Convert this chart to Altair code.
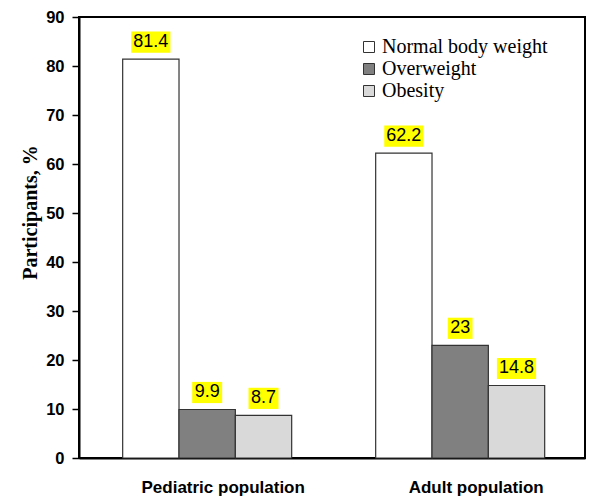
import altair as alt
import pandas as pd

groups = ["Pediatric population", "Adult population"]
categories = ["Normal body weight", "Overweight", "Obesity"]
pediatric = [81.4, 9.9, 8.7]
adult = [62.2, 23, 14.8]
colors = ["#ffffff", "#808080", "#d9d9d9"]
y_ticks = [0, 10, 20, 30, 40, 50, 60, 70, 80, 90]

rows = []
for g, vals in zip(groups, [pediatric, adult]):
    for c, v in zip(categories, vals):
        rows.append({"group": g, "category": c, "value": v})
df = pd.DataFrame(rows)

# label box shapes (unit square coordinates, scaled by symbol size)
box_paths = [
    "M-0.62,-0.53L0.62,-0.53L0.62,0.53L-0.62,0.53Z",
    "M-0.75,-0.53L0.75,-0.53L0.75,0.53L-0.75,0.53Z",
    "M-0.98,-0.53L0.98,-0.53L0.98,0.53L-0.98,0.53Z",
]

x_enc = alt.X("group:N", sort=groups, title=None,
              scale=alt.Scale(paddingInner=0.332, paddingOuter=0.166, align=0.52),
              axis=alt.Axis(labelFont="Liberation Sans", labelFontWeight="bold",
                            labelFontSize=17, labelColor="#000000", labelAngle=0,
                            ticks=False, labelPadding=21, labelOffset=16,
                            domainColor="#000000", domainWidth=2))
xoff = alt.XOffset("category:N", sort=categories)
y_enc = alt.Y("value:Q", scale=alt.Scale(domain=[0, 90], nice=False),
              axis=alt.Axis(values=y_ticks, title="Participants, %",
                            titleFont="Liberation Serif", titleFontSize=20,
                            titleFontWeight="bold", titleColor="#000000",
                            titleAngle=270, titleX=-49, titleY=195,
                            titleAlign="center", titleBaseline="middle",
                            labelFont="Liberation Sans", labelFontWeight="bold",
                            labelFontSize=16.5, labelColor="#000000",
                            labelPadding=8, tickSize=7, tickColor="#000000",
                            tickWidth=1.5, domainColor="#000000", domainWidth=2,
                            grid=False))

base = alt.Chart(df)

bars = base.mark_bar(stroke="#333333", strokeWidth=1.2).encode(
    x=x_enc,
    xOffset=xoff,
    y=y_enc,
    color=alt.Color("category:N", sort=categories,
                    scale=alt.Scale(domain=categories, range=colors),
                    legend=alt.Legend(title=None, orient="none", legendX=280,
                                      legendY=20, symbolType="square",
                                      symbolSize=121, symbolStrokeColor="#333333",
                                      symbolStrokeWidth=1, symbolOpacity=1,
                                      labelFont="Liberation Serif", labelFontSize=20,
                                      labelColor="#000000", labelLimit=400,
                                      labelOffset=3, rowPadding=2)),
)

labelled = base.transform_calculate(
    label="toString(datum.value)",
    ln="length(toString(datum.value))",
)

boxes = labelled.mark_point(filled=True, fill="#ffff00", opacity=1,
                            strokeWidth=0, size=1600, yOffset=-17).encode(
    x=alt.X("group:N", sort=groups),
    xOffset=xoff,
    y=alt.Y("value:Q"),
    shape=alt.Shape("ln:O", scale=alt.Scale(domain=[2, 3, 4], range=box_paths),
                    legend=None),
)

texts = labelled.mark_text(font="Liberation Sans", fontSize=18, color="#000000",
                           baseline="middle", dy=-17).encode(
    x=alt.X("group:N", sort=groups),
    xOffset=xoff,
    y=alt.Y("value:Q"),
    text="label:N",
)

chart = alt.layer(bars, boxes, texts).properties(
    width=506, height=441,
    autosize=alt.AutoSizeParams(type="none"),
    padding={"left": 79, "top": 17, "right": 21, "bottom": 41},
    background="#ffffff",
).configure_view(stroke="#000000", strokeWidth=2)

chart.save("out.html", embed_options={"renderer": "svg", "actions": False})
